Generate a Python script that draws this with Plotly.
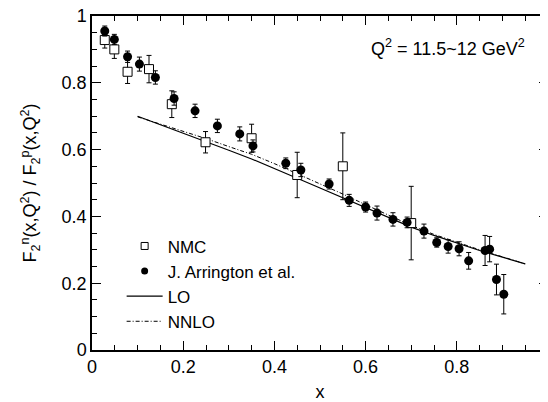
import plotly.graph_objects as go

# NMC data
nmc_x = [0.028, 0.049, 0.078, 0.125, 0.175, 0.249, 0.35, 0.45, 0.55, 0.70]
nmc_y = [0.928, 0.900, 0.833, 0.841, 0.736, 0.622, 0.634, 0.524, 0.550, 0.380]
nmc_err = [0.024, 0.027, 0.035, 0.041, 0.040, 0.032, 0.042, 0.068, 0.100, 0.110]

# J. Arrington et al. data
arr_x = [0.028, 0.049, 0.078, 0.104, 0.139, 0.180, 0.226, 0.275, 0.324, 0.353,
         0.425, 0.458, 0.520, 0.564, 0.600, 0.625, 0.660, 0.691, 0.728, 0.756,
         0.781, 0.805, 0.826, 0.862, 0.872, 0.887, 0.903]
arr_y = [0.955, 0.930, 0.878, 0.856, 0.816, 0.753, 0.716, 0.671, 0.647, 0.611,
         0.559, 0.539, 0.497, 0.448, 0.428, 0.410, 0.391, 0.382, 0.356, 0.322,
         0.310, 0.303, 0.267, 0.298, 0.302, 0.211, 0.167]
arr_err = [0.015, 0.015, 0.017, 0.021, 0.020, 0.020, 0.020, 0.020, 0.021, 0.018,
           0.016, 0.020, 0.015, 0.018, 0.015, 0.021, 0.020, 0.016, 0.021, 0.014,
           0.020, 0.021, 0.025, 0.045, 0.038, 0.046, 0.059]

# Theory curves
th_x = [0.10, 0.15, 0.20, 0.25, 0.30, 0.35, 0.40, 0.45, 0.50, 0.55,
        0.60, 0.65, 0.70, 0.75, 0.80, 0.85, 0.90, 0.95]
lo_y = [0.700, 0.675, 0.650, 0.624, 0.598, 0.572, 0.544, 0.514, 0.485, 0.456,
        0.426, 0.396, 0.368, 0.343, 0.320, 0.298, 0.278, 0.258]
nnlo_y = [0.698, 0.676, 0.656, 0.633, 0.609, 0.586, 0.558, 0.528, 0.498, 0.467,
          0.435, 0.403, 0.373, 0.346, 0.322, 0.300, 0.279, 0.258]

FONT = "Liberation Sans, Arial, Helvetica, sans-serif"

fig = go.Figure()

fig.add_trace(go.Scatter(x=th_x, y=lo_y, mode="lines", showlegend=False,
                         line=dict(color="black", width=1.2)))
fig.add_trace(go.Scatter(x=th_x, y=nnlo_y, mode="lines", showlegend=False,
                         line=dict(color="black", width=1, dash="4px,2px,1px,2px")))

fig.add_trace(go.Scatter(x=nmc_x, y=nmc_y, mode="markers", showlegend=False,
                         marker=dict(symbol="square", size=9, color="white",
                                     line=dict(color="black", width=1)),
                         error_y=dict(type="data", array=nmc_err, color="black",
                                      thickness=1, width=2.5)))
fig.add_trace(go.Scatter(x=arr_x, y=arr_y, mode="markers", showlegend=False,
                         marker=dict(symbol="circle", size=9, color="black"),
                         error_y=dict(type="data", array=arr_err, color="black",
                                      thickness=1, width=2.5)))

# legend entries
fig.add_trace(go.Scatter(x=[None], y=[None], mode="markers", name="NMC", legendrank=1,
                         marker=dict(symbol="square", size=7, color="white",
                                     line=dict(color="black", width=1))))
fig.add_trace(go.Scatter(x=[None], y=[None], mode="markers", name="J. Arrington et al.",
                         legendrank=2, marker=dict(symbol="circle", size=7, color="black")))
fig.add_trace(go.Scatter(x=[None], y=[None], mode="lines", name="LO", legendrank=3,
                         line=dict(color="black", width=1.2)))
fig.add_trace(go.Scatter(x=[None], y=[None], mode="lines", name="NNLO", legendrank=4,
                         line=dict(color="black", width=1, dash="4px,2px,1px,2px")))

axis_common = dict(
    range=[0, 1], dtick=0.2, tick0=0, ticks="inside", ticklen=9, tickwidth=1.2,
    tickcolor="black", showline=True, linecolor="black", linewidth=1.5,
    mirror="ticks", showgrid=False, zeroline=False, automargin=False,
    ticklabeloverflow="allow",
    tickfont=dict(family=FONT, size=18, color="black"),
    minor=dict(dtick=0.05, ticks="inside", ticklen=5, tickwidth=1, tickcolor="black",
               showgrid=False),
)

fig.update_layout(
    width=540, height=394,
    margin=dict(l=84, r=0, t=8, b=52),
    paper_bgcolor="white", plot_bgcolor="white",
    font=dict(family=FONT, size=18, color="black"),
    xaxis=dict(axis_common, title=dict(text="x", font=dict(size=18), standoff=13)),
    yaxis=dict(axis_common,
               title=dict(text="F<sub>2</sub><sup>n</sup>(x,Q<sup>2</sup>) / F<sub>2</sub><sup>p</sup>(x,Q<sup>2</sup>)",
                          font=dict(size=18), standoff=20)),
    legend=dict(x=0.065, y=0.364, xanchor="left", yanchor="top",
                bgcolor="rgba(0,0,0,0)", font=dict(family=FONT, size=17),
                itemwidth=36, tracegroupgap=0),
    annotations=[dict(text="Q<sup>2</sup> = 11.5~12 GeV<sup>2</sup>", x=0.954, y=0.907,
                      xref="paper", yref="paper", xanchor="right", yanchor="middle",
                      showarrow=False, font=dict(family=FONT, size=18))],
)

fig.write_html("out.html")
